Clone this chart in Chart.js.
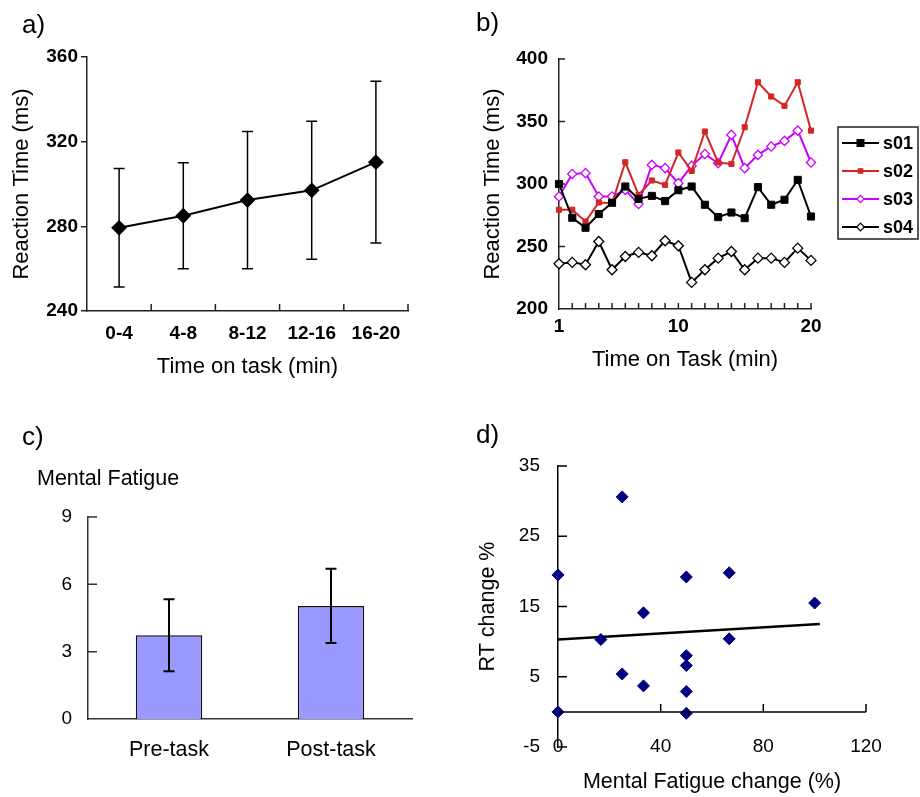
<!DOCTYPE html>
<html><head><meta charset="utf-8">
<script src="https://cdn.jsdelivr.net/npm/chart.js@4.4.1/dist/chart.umd.min.js"></script>
<style>
body{margin:0;background:#fff;font-family:"Liberation Sans",Arial,sans-serif;}
#root{position:relative;width:920px;height:797px;overflow:hidden;background:#fff;}
.pl{position:absolute;font-size:26px;line-height:30px;color:#000;white-space:nowrap;}
.cap{position:absolute;font-size:21.5px;line-height:26px;color:#000;white-space:nowrap;}
canvas{position:absolute;}
</style></head><body>
<div id="root">
<canvas id="ca" width="460" height="400" style="left:0;top:0;width:460px;height:400px"></canvas>
<canvas id="cb" width="460" height="400" style="left:460px;top:0;width:460px;height:400px"></canvas>
<canvas id="cc" width="460" height="397" style="left:0;top:400px;width:460px;height:397px"></canvas>
<canvas id="cd" width="460" height="397" style="left:460px;top:400px;width:460px;height:397px"></canvas>
<div class="pl" style="left:22px;top:9px">a)</div>
<div class="pl" style="left:476px;top:7px">b)</div>
<div class="pl" style="left:22px;top:421px">c)</div>
<div class="pl" style="left:476px;top:419px">d)</div>
<div class="cap" style="left:37px;top:465px">Mental Fatigue</div>
</div>
<script>
// ---------- data ----------
const catsA = ['0-4', '4-8', '8-12', '12-16', '16-20'];
const rtMeanA = [279.3, 285, 292.4, 297, 310.3];
const rtErrA = [28, 25, 32.4, 32.6, 38.2];

const minutesB = [1, 2, 3, 4, 5, 6, 7, 8, 9, 10, 11, 12, 13, 14, 15, 16, 17, 18, 19, 20];
const s01 = [300, 273, 265, 276, 285, 298, 288, 290.5, 286.3, 295, 298, 283.4, 273.5, 277.2, 272.7, 297.5, 283.4, 287.4, 303.3, 274];
const s02 = [279.4, 279.4, 270, 285.2, 284.7, 317.4, 291.3, 302.8, 299.3, 325.2, 310.5, 342, 317.2, 316, 345.4, 381.4, 370, 362.5, 381.4, 342.7];
const s03 = [290, 308, 308.7, 290, 290, 295.3, 284, 315.3, 312.7, 300.7, 314.5, 324, 316.6, 339.3, 312.7, 323.3, 330, 334.5, 342.7, 317.2];
const s04 = [236.2, 237.3, 235.4, 254, 231.4, 242, 245.3, 242.6, 254.6, 250.6, 221.3, 231.4, 240.7, 246, 231.4, 240.7, 240.7, 237.3, 248.7, 238.9];
const seriesNamesB = ['s01', 's02', 's03', 's04'];
const xLabelsB = [1, 10, 20];

const catsC = ['Pre-task', 'Post-task'];
const fatigueC = [3.73, 5.04];
const fatigueErrC = [1.6, 1.65];

const mfChangeD = [0, 0, 25, 25, 16.7, 33.3, 33.3, 50, 50, 50, 50, 50, 66.7, 66.7, 100];
const rtChangeD = [19.5, 0, 30.6, 5.4, 10.3, 14.1, 3.7, 19.2, 8.0, 6.6, 2.9, -0.2, 19.8, 10.4, 15.5];
const trendXD = [0, 102];
const trendYD = [10.3, 12.5];
const yTicksD = [-5, 5, 15, 25, 35];

// ---------- helpers ----------
Chart.defaults.font.family = '"Liberation Sans", Arial, sans-serif';
Chart.defaults.color = '#000';
Chart.defaults.animation = false;

function innerTicks(cfg) {
  return {
    id: 'innerTicks',
    afterDraw(chart) {
      const ctx = chart.ctx, a = chart.chartArea, xs = chart.scales.x, ys = chart.scales.y;
      ctx.save();
      ctx.strokeStyle = cfg.color || '#000';
      ctx.lineWidth = cfg.width || 1.5;
      ctx.beginPath();
      const hasBase = cfg.xAxisAt !== undefined;
      const baseY = hasBase ? ys.getPixelForValue(cfg.xAxisAt) : a.bottom;
      if (hasBase) {
        ctx.moveTo(xs.getPixelForValue(xs.min), baseY);
        ctx.lineTo(xs.getPixelForValue(xs.max), baseY);
      }
      const xp = [];
      if (cfg.catBounds) {
        const n = xs.ticks.length;
        const w = n > 1 ? xs.getPixelForValue(1) - xs.getPixelForValue(0) : a.width;
        for (let i = 0; i < n; i++) xp.push(xs.getPixelForValue(i) + w / 2);
      }
      if (cfg.xFromTicks) xs.ticks.forEach(t => { if (t.value !== cfg.xSkip) xp.push(xs.getPixelForValue(t.value)); });
      xp.forEach(p => { ctx.moveTo(p, baseY); ctx.lineTo(p, baseY - cfg.xLen); });
      if (cfg.yFromTicks) ys.ticks.forEach(t => {
        if (t.value === cfg.ySkip) return;
        const p = ys.getPixelForValue(t.value);
        ctx.moveTo(a.left, p); ctx.lineTo(a.left + cfg.yLen, p);
      });
      ctx.stroke();
      ctx.restore();
    }
  };
}

function errorBars(phase) {
  const draw = (chart) => {
    const ctx = chart.ctx, ys = chart.scales.y;
    chart.data.datasets.forEach((ds, i) => {
      if (!ds.errors) return;
      const meta = chart.getDatasetMeta(i);
      ctx.save();
      ctx.strokeStyle = ds.errorColor || '#000';
      ctx.lineWidth = ds.errorWidth || 1.5;
      meta.data.forEach((el, j) => {
        const v = ds.data[j], e = ds.errors[j];
        const t = ys.getPixelForValue(v + e), b = ys.getPixelForValue(v - e), x = el.x, c = ds.errorCap || 5;
        ctx.beginPath();
        ctx.moveTo(x, t); ctx.lineTo(x, b);
        ctx.moveTo(x - c, t); ctx.lineTo(x + c, t);
        ctx.moveTo(x - c, b); ctx.lineTo(x + c, b);
        ctx.stroke();
      });
      ctx.restore();
    });
  };
  const p = { id: 'errorBars' };
  if (phase === 'before') p.beforeDatasetsDraw = draw; else p.afterDatasetsDraw = draw;
  return p;
}

function drawMarker(ctx, style, x, y, r, fill, stroke, lw) {
  ctx.beginPath();
  if (style === 'rect') ctx.rect(x - r, y - r, 2 * r, 2 * r);
  else { ctx.moveTo(x, y - r); ctx.lineTo(x + r, y); ctx.lineTo(x, y + r); ctx.lineTo(x - r, y); ctx.closePath(); }
  ctx.fillStyle = fill; ctx.fill();
  ctx.lineWidth = lw; ctx.strokeStyle = stroke; ctx.stroke();
}

const boxLegend = {
  id: 'boxLegend',
  afterDraw(chart) {
    const ctx = chart.ctx;
    const L = 378, T = 127, W = 80, H = 112, row0 = 143, rowH = 28;
    ctx.save();
    ctx.strokeStyle = '#222'; ctx.lineWidth = 1.5;
    ctx.strokeRect(L, T, W, H);
    chart.data.datasets.forEach((ds, i) => {
      const y = row0 + i * rowH;
      ctx.beginPath(); ctx.strokeStyle = ds.borderColor; ctx.lineWidth = 2;
      ctx.moveTo(L + 4, y); ctx.lineTo(L + 41, y); ctx.stroke();
      drawMarker(ctx, ds.pointStyle, L + 22.5, y, ds.legendRadius, ds.pointBackgroundColor, ds.borderColor, 1.2);
      ctx.fillStyle = '#000'; ctx.font = 'bold 18px "Liberation Sans", Arial, sans-serif';
      ctx.textBaseline = 'middle'; ctx.textAlign = 'left';
      ctx.fillText(ds.label, L + 45, y + 1);
    });
    ctx.restore();
  }
};

const tickBold = { size: 19, weight: 'bold' };
const tickReg = { size: 19 };
const titleFont = { size: 22 };

// ---------- panel a ----------
new Chart(document.getElementById('ca'), {
  type: 'line',
  data: {
    labels: catsA,
    datasets: [{
      data: rtMeanA, errors: rtErrA, errorCap: 5.5, errorWidth: 1.5,
      borderColor: '#000', borderWidth: 2, pointStyle: 'rectRot', pointRadius: 6.5,
      pointBackgroundColor: '#000', pointBorderColor: '#000', tension: 0, clip: false
    }]
  },
  options: {
    responsive: false,
    layout: { padding: { left: 0, top: 57, right: 52, bottom: 20 } },
    plugins: { legend: { display: false }, tooltip: { enabled: false } },
    scales: {
      x: {
        type: 'category', offset: true,
        grid: { display: false, drawTicks: false },
        border: { color: '#222', width: 1.5 },
        ticks: { font: tickBold, padding: 11, autoSkip: false, maxRotation: 0 },
        title: { display: true, text: 'Time on task (min)', font: titleFont, padding: { top: 0, bottom: 0 } },
        afterFit: (s) => { s.height = 69; }
      },
      y: {
        min: 240, max: 360, ticks: { stepSize: 40, font: tickBold, padding: 3 },
        grid: { drawOnChartArea: false, drawTicks: true, tickLength: 6, color: '#222', lineWidth: 1.5 },
        border: { color: '#222', width: 1.5 },
        title: { display: true, text: 'Reaction Time (ms)', font: titleFont, padding: { top: 9, bottom: 0 } },
        afterFit: (s) => { s.width = 87; }
      }
    }
  },
  plugins: [errorBars('before'), innerTicks({ catBounds: true, xLen: 7, color: '#222' })]
});

// ---------- panel b ----------
const mk = (arr) => minutesB.map((m, i) => ({ x: m, y: arr[i] }));
new Chart(document.getElementById('cb'), {
  type: 'line',
  data: {
    datasets: [
      { label: seriesNamesB[0], data: mk(s01), borderColor: '#000', borderWidth: 2, pointStyle: 'rect', pointRadius: 5,
        pointBackgroundColor: '#000', pointBorderColor: '#000', pointBorderWidth: 1, legendRadius: 3.4, tension: 0, clip: false },
      { label: seriesNamesB[1], data: mk(s02), borderColor: '#d42626', borderWidth: 2, pointStyle: 'rect', pointRadius: 3.6,
        pointBackgroundColor: '#d42626', pointBorderColor: '#d42626', pointBorderWidth: 1, legendRadius: 2.2, tension: 0, clip: false },
      { label: seriesNamesB[2], data: mk(s03), borderColor: '#cc00ff', borderWidth: 2, pointStyle: 'rectRot', pointRadius: 4.6,
        pointBackgroundColor: '#fff', pointBorderColor: '#cc00ff', pointBorderWidth: 1.3, legendRadius: 3.6, tension: 0, clip: false },
      { label: seriesNamesB[3], data: mk(s04), borderColor: '#000', borderWidth: 2, pointStyle: 'rectRot', pointRadius: 5,
        pointBackgroundColor: '#fff', pointBorderColor: '#000', pointBorderWidth: 1.3, legendRadius: 3.8, tension: 0, clip: false }
    ]
  },
  options: {
    responsive: false,
    layout: { padding: { left: 0, top: 59, right: 109, bottom: 27 } },
    plugins: { legend: { display: false }, tooltip: { enabled: false } },
    scales: {
      x: {
        type: 'linear', min: 1, max: 20,
        grid: { display: false, drawTicks: false },
        border: { color: '#222', width: 1.5 },
        ticks: { stepSize: 1, font: tickBold, padding: 6, autoSkip: false, maxRotation: 0,
                 callback: (v) => (xLabelsB.includes(v) ? String(v) : '') },
        title: { display: true, text: 'Time on Task (min)', font: titleFont, padding: { top: 0, bottom: 0 } },
        afterFit: (s) => { s.height = 64; }
      },
      y: {
        min: 200, max: 400, ticks: { stepSize: 50, font: tickBold, padding: 11 },
        grid: { display: false, drawTicks: false },
        border: { color: '#222', width: 1.5 },
        title: { display: true, text: 'Reaction Time (ms)', font: titleFont, padding: { top: 20, bottom: 0 } },
        afterFit: (s) => { s.width = 99; }
      }
    }
  },
  plugins: [innerTicks({ xFromTicks: true, xSkip: 1, xLen: 6, yFromTicks: true, ySkip: 200, yLen: 6, color: '#222' }), boxLegend]
});

// ---------- panel c ----------
new Chart(document.getElementById('cc'), {
  type: 'bar',
  data: {
    labels: catsC,
    datasets: [{
      data: fatigueC, errors: fatigueErrC, errorCap: 5.5, errorWidth: 2,
      backgroundColor: '#9999ff', borderColor: '#111', borderWidth: 1.5,
      categoryPercentage: 1, barPercentage: 0.41
    }]
  },
  options: {
    responsive: false,
    layout: { padding: { left: 0, top: 117, right: 48, bottom: 28 } },
    plugins: { legend: { display: false }, tooltip: { enabled: false } },
    scales: {
      x: {
        grid: { display: false, drawTicks: false },
        border: { color: '#333', width: 1.5 },
        ticks: { font: { size: 21.5 }, padding: 18, autoSkip: false, maxRotation: 0 },
        afterFit: (s) => { s.height = 50; }
      },
      y: {
        min: 0, max: 9, ticks: { stepSize: 3, font: tickReg, padding: 16 },
        grid: { display: false, drawTicks: false },
        border: { color: '#333', width: 1.5 },
        afterFit: (s) => { s.width = 88; }
      }
    }
  },
  plugins: [errorBars('after'), innerTicks({ yFromTicks: true, ySkip: 0, yLen: 9, color: '#333' })]
});

// ---------- panel d ----------
new Chart(document.getElementById('cd'), {
  type: 'scatter',
  data: {
    datasets: [
      { type: 'scatter', order: 0, data: mfChangeD.map((x, i) => ({ x: x, y: rtChangeD[i] })),
        pointStyle: 'rectRot', pointRadius: 6, backgroundColor: '#000080', borderColor: '#000080', borderWidth: 1, clip: false },
      { type: 'line', order: 1, data: trendXD.map((x, i) => ({ x: x, y: trendYD[i] })),
        borderColor: '#000', borderWidth: 2.5, pointRadius: 0, showLine: true, tension: 0 }
    ]
  },
  options: {
    responsive: false,
    layout: { padding: { left: 0, top: 66, right: 54, bottom: 2 } },
    plugins: { legend: { display: false }, tooltip: { enabled: false } },
    scales: {
      x: {
        type: 'linear', min: 0, max: 120,
        grid: { display: false, drawTicks: false },
        border: { display: false },
        ticks: { stepSize: 40, font: tickReg, padding: -12, maxRotation: 0 },
        title: { display: true, text: 'Mental Fatigue change (%)', font: { size: 21.5 }, padding: { top: 0, bottom: 0 } },
        afterFit: (s) => { s.height = 48; },
        afterUpdate: (s) => { s._computeLabelArea = () => undefined; }
      },
      y: {
        min: -5, max: 35,
        afterBuildTicks: (s) => { s.ticks = yTicksD.map(v => ({ value: v })); },
        ticks: { font: tickReg, padding: 18 },
        grid: { display: false, drawTicks: false },
        border: { color: '#000', width: 1.5 },
        title: { display: true, text: 'RT change %', font: { size: 21.5 }, padding: { top: 15, bottom: 0 } },
        afterFit: (s) => { s.width = 98; }
      }
    }
  },
  plugins: [innerTicks({ xAxisAt: 0, xFromTicks: true, xSkip: 0, xLen: 8, yFromTicks: true, yLen: 9, color: '#000' })]
});
</script>
</body></html>
